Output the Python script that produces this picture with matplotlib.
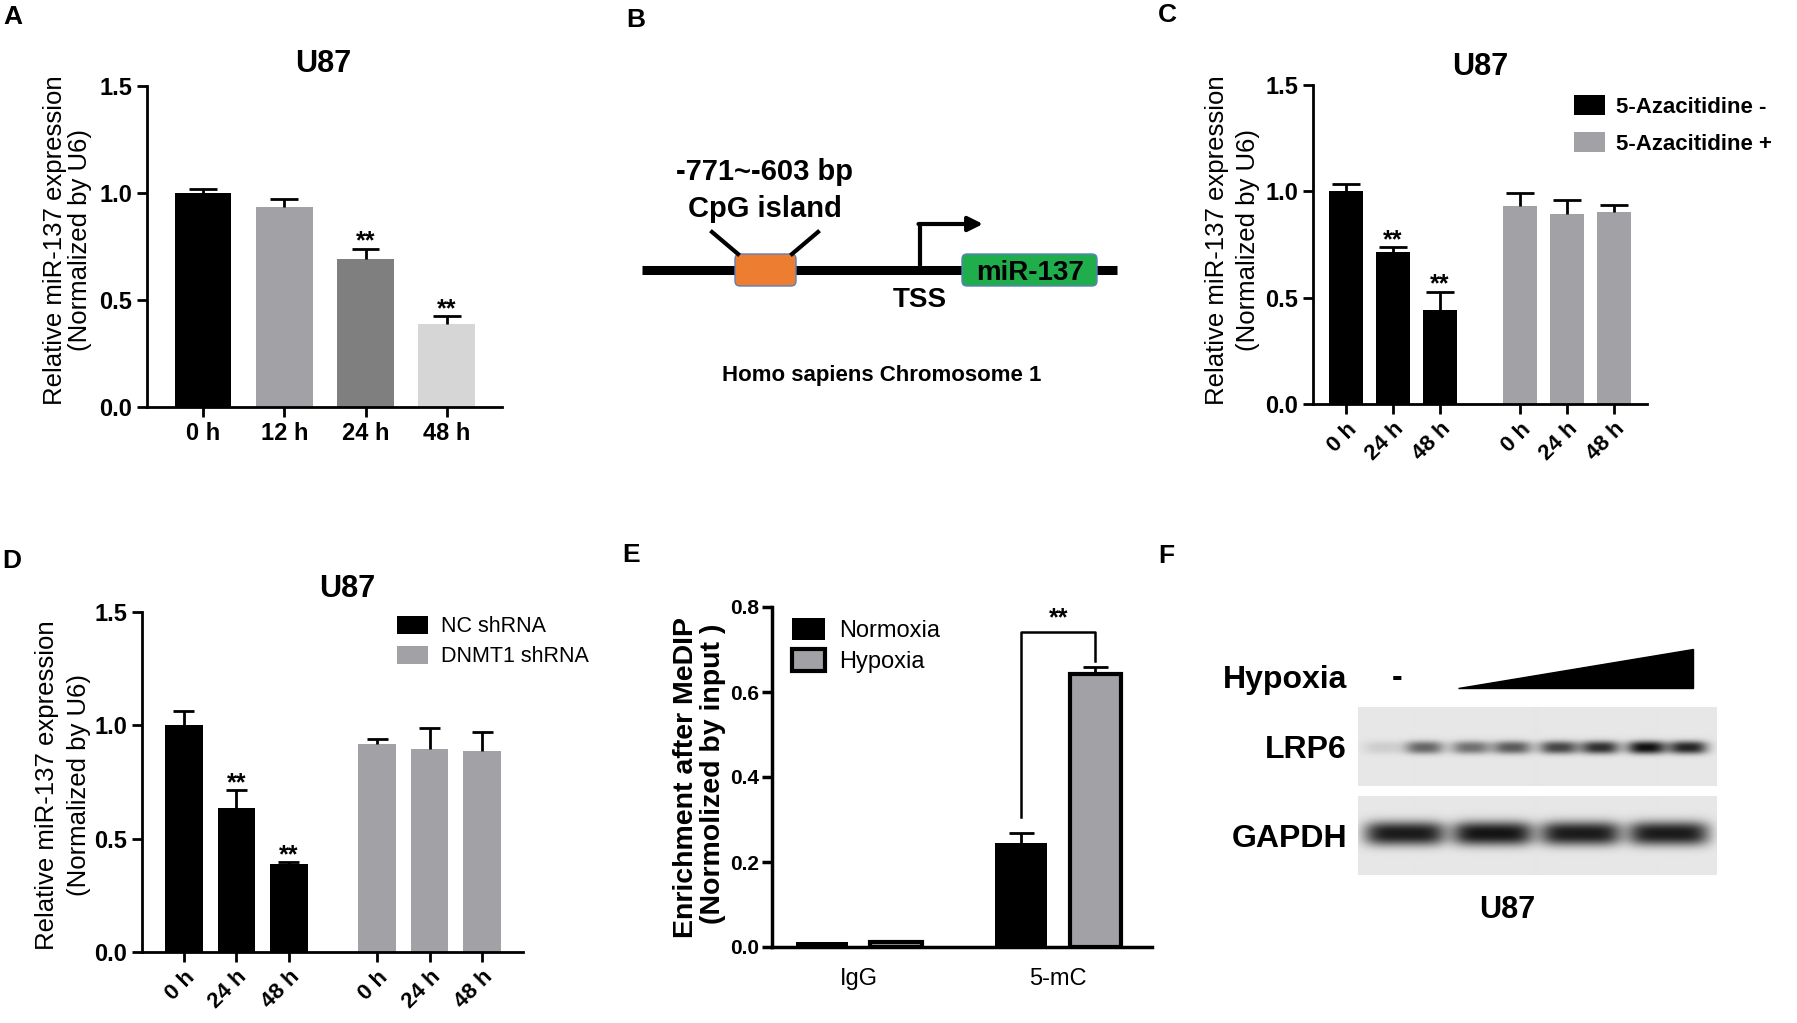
import numpy as np
import matplotlib
matplotlib.use('Agg')
import matplotlib.pyplot as plt
from matplotlib.patches import FancyBboxPatch, Polygon

W, H = 1797, 1023
plt.rcParams['font.family'] = ['Liberation Sans', 'DejaVu Sans']

# ---------------- data ----------------
# A: time course
a_labels = ['0 h', '12 h', '24 h', '48 h']
a_means = [1.00, 0.935, 0.69, 0.39]
a_tops = [1.02, 0.97, 0.74, 0.425]
a_colors = ['#000000', '#a2a2a6', '#7f7f7f', '#d6d6d6']
a_stars = ['', '', '**', '**']

# C: 5-Azacitidine
c_labels = ['0 h', '24 h', '48 h']
c_minus = [1.00, 0.713, 0.442]
c_minus_top = [1.035, 0.737, 0.528]
c_plus = [0.931, 0.893, 0.901]
c_plus_top = [0.99, 0.958, 0.937]
c_stars = ['', '**', '**']

# D: shRNA
d_labels = ['0 h', '24 h', '48 h']
d_nc = [1.00, 0.634, 0.388]
d_nc_top = [1.065, 0.715, 0.396]
d_dnmt = [0.916, 0.894, 0.887]
d_dnmt_top = [0.938, 0.987, 0.972]
d_stars = ['', '**', '**']

# E: MeDIP
e_groups = ['IgG', '5-mC']
e_norm = [0.012, 0.245]
e_norm_top = [0.012, 0.268]
e_hyp = [0.012, 0.643]
e_hyp_top = [0.012, 0.66]

# F: western blot band strength per lane (two halves for LRP6)
lrp6_left = [0.12, 0.55, 0.75, 1.0]
lrp6_right = [0.6, 0.65, 0.85, 0.9]
gapdh = [0.95, 0.98, 0.95, 0.95]

GREY = '#a2a2a6'

fig = plt.figure(figsize=(W / 100, H / 100), dpi=100)


def px_axes(x0, y0, x1, y1):
    return fig.add_axes([x0 / W, 1 - y1 / H, (x1 - x0) / W, (y1 - y0) / H])


def ftext(x, y, s, **kw):
    fig.text(x / W, 1 - y / H, s, **kw)


def style(ax, ymax, yticks, lw=2):
    ax.set_ylim(0, ymax)
    ax.set_yticks(yticks, ['%.1f' % t for t in yticks])
    ax.spines[['top', 'right']].set_visible(False)
    for s in ['left', 'bottom']:
        ax.spines[s].set_linewidth(lw)
    ax.tick_params(width=lw, length=7, labelsize=17)
    for lab in ax.get_yticklabels():
        lab.set_fontweight('bold')


def err_up(ax, x, means, tops, cap):
    x = np.asarray(x, float)
    ax.vlines(x, means, tops, color='k', lw=2, zorder=3)
    ax.hlines(tops, x - cap, x + cap, color='k', lw=2, zorder=3)


def stars(ax, x, tops, marks):
    for xi, t, m in zip(x, tops, marks):
        if m:
            ax.text(xi, t, m, ha='center', va='baseline', fontsize=18, fontweight='bold')


# overlay in pixel coordinates for labels / diagram
ov = fig.add_axes([0, 0, 1, 1])
ov.set_xlim(0, W)
ov.set_ylim(H, 0)
ov.axis('off')

# panel letters
for letter, (x, y) in zip('ABCDEF', [(3, 5), (626, 8), (1158, 3), (2, 549), (622, 543), (1158, 544)]):
    ftext(x, y, letter, fontsize=19, fontweight='bold', va='top', ha='left')

# ---------------- A ----------------
axA = px_axes(147, 86, 502, 407)
xa = np.arange(len(a_labels))
axA.bar(xa, a_means, width=0.7, color=a_colors)
err_up(axA, xa, a_means, a_tops, 0.17)
stars(axA, xa, a_tops, a_stars)
axA.set_xlim(-0.69, 3.68)
style(axA, 1.5, [0.0, 0.5, 1.0, 1.5])
axA.set_xticks(xa, a_labels, fontweight='bold', fontsize=17)
ftext(323, 72, 'U87', fontsize=22, fontweight='bold', ha='center', va='baseline')
ftext(55, 240, 'Relative miR-137 expression', fontsize=18.5, rotation=90, ha='center', va='center')
ftext(80, 240, '(Normalized by U6)', fontsize=18.5, rotation=90, ha='center', va='center')

# ---------------- B (diagram) ----------------
ov.plot([642, 1117], [270, 270], color='k', lw=6.5, solid_capstyle='butt', zorder=1)
ov.add_patch(FancyBboxPatch((735, 254), 61, 32, boxstyle='round,pad=0,rounding_size=5',
                            fc='#ED7D31', ec='#5b7fbf', lw=1, zorder=2))
ov.plot([738, 712], [254, 232], color='k', lw=3)
ov.plot([792, 818], [254, 232], color='k', lw=3)
ov.plot([920, 920], [270, 224], color='k', lw=3, solid_capstyle='butt')
ov.annotate('', xy=(983, 224), xytext=(918.5, 224),
            arrowprops=dict(arrowstyle='-|>', lw=3, color='k', mutation_scale=22, shrinkA=0, shrinkB=0))
ov.add_patch(FancyBboxPatch((962, 254), 135, 32, boxstyle='round,pad=0,rounding_size=5',
                            fc='#1fae4b', ec='#5b7fbf', lw=1, zorder=2))
ov.text(1030, 280, 'miR-137', fontsize=20, fontweight='bold', ha='center', va='baseline', zorder=3)
ftext(765, 180, '-771~-603 bp', fontsize=21, fontweight='bold', ha='center', va='baseline')
ftext(765, 217, 'CpG island', fontsize=21, fontweight='bold', ha='center', va='baseline')
ftext(920, 307, 'TSS', fontsize=20, fontweight='bold', ha='center', va='baseline')
ftext(882, 381, 'Homo sapiens Chromosome 1', fontsize=16, fontweight='bold', ha='center', va='baseline')

# ---------------- C ----------------
axC = px_axes(1313, 85, 1647, 404)
xc1 = np.arange(3)
xc2 = xc1 + 3.7
bC1 = axC.bar(xc1, c_minus, width=0.74, color='k', label='5-Azacitidine -')
bC2 = axC.bar(xc2, c_plus, width=0.74, color=GREY, label='5-Azacitidine +')
err_up(axC, xc1, c_minus, c_minus_top, 0.29)
err_up(axC, xc2, c_plus, c_plus_top, 0.29)
stars(axC, xc1, c_minus_top, c_stars)
axC.set_xlim(-0.70, 6.40)
style(axC, 1.5, [0.0, 0.5, 1.0, 1.5])
axC.set_xticks(np.concatenate([xc1, xc2]), c_labels * 2, rotation=45, ha='right',
               rotation_mode='anchor', fontweight='bold', fontsize=16)
axC.legend(handles=[bC1, bC2], loc='upper left', bbox_to_anchor=(1563 / W, 1 - 84 / H),
           bbox_transform=fig.transFigure, frameon=False, borderpad=0, handlelength=1.4,
           handleheight=1.0, handletextpad=0.5, labelspacing=0.65,
           prop=dict(size=16, weight='bold'))
ftext(1480, 75, 'U87', fontsize=22, fontweight='bold', ha='center', va='baseline')
ftext(1217, 240, 'Relative miR-137 expression', fontsize=18.5, rotation=90, ha='center', va='center')
ftext(1248, 240, '(Normalized by U6)', fontsize=18.5, rotation=90, ha='center', va='center')

# ---------------- D ----------------
axD = px_axes(142, 612, 523, 952)
xd1 = np.arange(3)
xd2 = xd1 + 3.68
bD1 = axD.bar(xd1, d_nc, width=0.72, color='k', label='NC shRNA')
bD2 = axD.bar(xd2, d_dnmt, width=0.72, color=GREY, label='DNMT1 shRNA')
err_up(axD, xd1, d_nc, d_nc_top, 0.2)
err_up(axD, xd2, d_dnmt, d_dnmt_top, 0.2)
stars(axD, xd1, d_nc_top, d_stars)
axD.set_xlim(-0.8, 6.46)
style(axD, 1.5, [0.0, 0.5, 1.0, 1.5])
axD.set_xticks(np.concatenate([xd1, xd2]), d_labels * 2, rotation=45, ha='right',
               rotation_mode='anchor', fontweight='bold', fontsize=16)
axD.legend(handles=[bD1, bD2], loc='upper left', bbox_to_anchor=(386 / W, 1 - 605 / H),
           bbox_transform=fig.transFigure, frameon=False, borderpad=0, handlelength=1.45,
           handleheight=0.9, handletextpad=0.6, labelspacing=0.4, prop=dict(size=15.5))
ftext(347, 597, 'U87', fontsize=22, fontweight='bold', ha='center', va='baseline')
ftext(47, 785, 'Relative miR-137 expression', fontsize=18.5, rotation=90, ha='center', va='center')
ftext(79, 785, '(Normalized by U6)', fontsize=18.5, rotation=90, ha='center', va='center')

# ---------------- E ----------------
axE = px_axes(772, 607, 1152, 947)
xe = np.arange(len(e_groups))
off, wE = 0.186, 0.26
bE1 = axE.bar(xe - off, e_norm, wE, color='k', label='Normoxia')
bE2 = axE.bar(xe + off, e_hyp, wE, color=GREY, edgecolor='k', linewidth=3, label='Hypoxia')
err_up(axE, (xe - off)[1:], e_norm[1:], e_norm_top[1:], 0.063)
err_up(axE, (xe + off)[1:], e_hyp[1:], e_hyp_top[1:], 0.063)
ybr = 0.741
axE.plot([xe[1] - off, xe[1] - off, xe[1] + off, xe[1] + off],
         [e_norm_top[1] + 0.038, ybr, ybr, e_hyp_top[1] + 0.012], color='k', lw=1.8)
axE.text(xe[1], ybr + 0.015, '**', ha='center', va='baseline', fontsize=18, fontweight='bold')
axE.set_xlim(-0.437, 1.47)
axE.set_ylim(0, 0.8)
axE.set_yticks([0, 0.2, 0.4, 0.6, 0.8], ['0.0', '0.2', '0.4', '0.6', '0.8'],
               fontweight='bold', fontsize=15)
axE.set_xticks(xe, e_groups, fontsize=17)
axE.tick_params(axis='x', length=0, pad=15)
axE.tick_params(axis='y', width=2.5, length=7, pad=2)
axE.spines[['top', 'right']].set_visible(False)
axE.spines['left'].set_linewidth(2.5)
axE.spines['bottom'].set_linewidth(2.5)
axE.legend(handles=[bE1, bE2], loc='upper left', bbox_to_anchor=(780 / W, 1 - 606 / H),
           bbox_transform=fig.transFigure, frameon=False, borderpad=0, handlelength=1.4,
           handleheight=1.05, handletextpad=0.6, labelspacing=0.3, prop=dict(size=17))
ftext(686, 778, 'Enrichment after MeDIP', fontsize=20.5, fontweight='bold', rotation=90,
      ha='center', va='center')
ftext(713, 774, '(Normolized by input )', fontsize=20.5, fontweight='bold', rotation=90,
      ha='center', va='center')

# ---------------- F (blot) ----------------
lanes = np.arange(len(gapdh))
xl, xr = -0.53, 3.545


def blot(top, bottom, bands):
    ax = px_axes(1358, top, 1717, bottom)
    rows = int(bottom - top)
    xs = np.linspace(xl, xr, 360)
    ys = np.arange(rows)
    X, Y = np.meshgrid(xs, ys)
    dark = np.zeros_like(X)
    for cx, cy, hw, hh, val, p in bands:
        dark += val * np.exp(-np.abs((X - cx) / hw) ** p - np.abs((Y - cy) / hh) ** 2.5)
    img = 0.905 * (1 - 0.93 * np.clip(dark, 0, 1))
    ax.imshow(img, cmap='gray', vmin=0, vmax=1, extent=[xl, xr, rows, 0], aspect='auto',
              interpolation='bilinear')
    ax.axis('off')
    return ax


lrp_bands = []
for i in lanes:
    lrp_bands.append((i - 0.25, 40, 0.22, 6.5, lrp6_left[i], 3))
    lrp_bands.append((i + 0.22, 40, 0.22, 6.5, lrp6_right[i], 3))
blot(707, 786, lrp_bands)
blot(796, 875, [(i, 37, 0.46, 12, gapdh[i], 5) for i in lanes])

ftext(1347, 688, 'Hypoxia', fontsize=23, fontweight='bold', ha='right', va='baseline')
ftext(1347, 758, 'LRP6', fontsize=23, fontweight='bold', ha='right', va='baseline')
ftext(1347, 847, 'GAPDH', fontsize=23, fontweight='bold', ha='right', va='baseline')
ftext(1397, 686, '-', fontsize=23, fontweight='bold', ha='center', va='baseline')
ftext(1507, 918, 'U87', fontsize=22, fontweight='bold', ha='center', va='baseline')
ov.add_patch(Polygon([(1458, 688), (1693, 688), (1693, 649)], closed=True, fc='k', ec='k'))

fig.savefig('out.png', dpi=100)
